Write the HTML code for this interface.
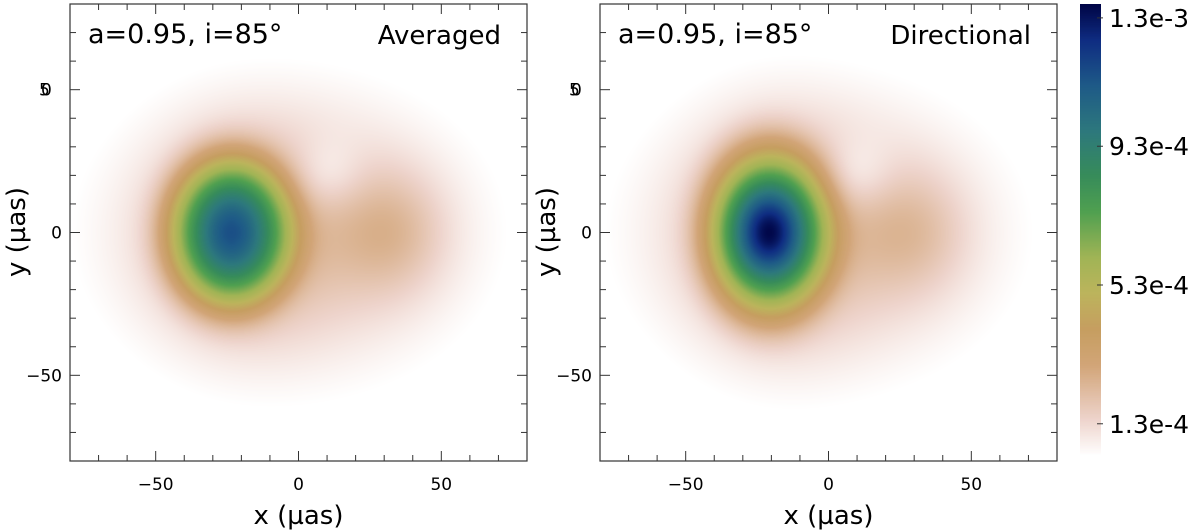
<!DOCTYPE html>
<html><head><meta charset="utf-8"><style>
body{margin:0;background:#fff;width:1200px;height:530px;overflow:hidden;font-family:"DejaVu Sans","Liberation Sans",sans-serif}
svg text{font-family:"DejaVu Sans","Liberation Sans",sans-serif;fill:#000}
canvas{position:absolute}
</style></head><body>
<canvas id="c1" width="457" height="457" style="left:70px;top:4px"></canvas>
<canvas id="c2" width="457" height="457" style="left:600px;top:4px"></canvas>
<canvas id="cb" width="21" height="451" style="left:1080px;top:4px"></canvas>
<svg id="s" width="1200" height="530" style="position:absolute;left:0;top:0"></svg>
<script>
// blob components: amplitude, cx, cy, sx, sy (µas), profile exponent
const avgAmp=[2.0e-4,-0.8e-4,1.2e-4,4.3e-4,4.3e-4,1.0e-4];
const avgCx=[-3,10,33,-24,-24,-22];
const avgCy=[0,20,0,0,0,0];
const avgSx=[42,9,13,20,10,20];
const avgSy=[33,9,15,24,13,25];
const avgPw=[2,2,2,4,2,2];
const dirAmp=[1.9e-4,-0.8e-4,1.0e-4,4.3e-4,6.3e-4,1.0e-4];
const dirCx=[-3,10,30,-21,-21,-20];
const dirCy=[0,20,0,0,0,0];
const dirSx=[42,9,13,20,9,20];
const dirSy=[33,9,15,27,12,28];
const dirPw=[2,2,2,4,2,2];
const cbTicks=[1.3e-3,9.3e-4,5.3e-4,1.3e-4];
const cbLabels=["1.3e-3","9.3e-4","5.3e-4","1.3e-4"];
const vmin=0.4e-4, vmax=1.34e-3;
const xTicks=[-50,0,50];
const xLabels=["\u221250","0","50"];
const yTicks=[0,-50];
const yLabels=["0","\u221250"];

const stops=[[0,[255,255,255]],[0.08,[238,212,204]],[0.2,[210,165,120]],[0.28,[198,158,96]],[0.36,[188,180,92]],[0.44,[160,180,85]],[0.54,[80,160,80]],[0.62,[55,140,90]],[0.72,[45,120,125]],[0.82,[30,90,135]],[0.92,[15,45,130]],[1,[0,5,70]]];
function cmap(t){t=Math.max(0,Math.min(1,t));for(let i=1;i<stops.length;i++){if(t<=stops[i][0]){const a=stops[i-1],b=stops[i];const f=(t-a[0])/(b[0]-a[0]);return a[1].map((v,k)=>v+(b[1][k]-v)*f);}}return stops[stops.length-1][1];}
function draw(id,A,CX,CY,SX,SY,PW){
 const c=document.getElementById(id),g=c.getContext('2d'),W=c.width,H=c.height,im=g.createImageData(W,H);
 for(let py=0;py<H;py++)for(let px=0;px<W;px++){
  const x=-80+160*(px+0.5)/W,y=80-160*(py+0.5)/H;let v=0;
  for(let k=0;k<A.length;k++){const dx=(x-CX[k])/SX[k],dy=(y-CY[k])/SY[k];v+=A[k]*Math.exp(-0.5*Math.pow(dx*dx+dy*dy,PW[k]/2));}
  const col=cmap((v-vmin)/(vmax-vmin)),o=(py*W+px)*4;im.data[o]=col[0];im.data[o+1]=col[1];im.data[o+2]=col[2];im.data[o+3]=255;}
 g.putImageData(im,0,0);}
draw('c1',avgAmp,avgCx,avgCy,avgSx,avgSy,avgPw);
draw('c2',dirAmp,dirCx,dirCy,dirSx,dirSy,dirPw);
(function(){const c=document.getElementById('cb'),g=c.getContext('2d');for(let y=0;y<c.height;y++){const col=cmap(1-y/c.height);g.fillStyle=`rgb(${col.map(Math.round).join(',')})`;g.fillRect(0,y,c.width,1);}})();

const S=document.getElementById('s'),NS='http://www.w3.org/2000/svg';
function el(t,a,p){const e=document.createElementNS(NS,t);for(const k in a)e.setAttribute(k,a[k]);(p||S).appendChild(e);return e;}
function panel(L,title,name){
 const T=4,Wd=457,H=457;
 const sx=v=>L+(v+80)/160*Wd, sy=v=>T+(80-v)/160*H;
 const g=el('g',{});
 
 
 el('rect',{x:L,y:T,width:Wd,height:H,fill:'none',stroke:'#333','stroke-width':1.2},g);
 for(let v=-80;v<=80;v+=10){const maj=v%50===0,len=maj?10:6;
  el('line',{x1:sx(v),x2:sx(v),y1:T+H,y2:T+H-len,stroke:'#333'},g);
  el('line',{x1:sx(v),x2:sx(v),y1:T,y2:T+len,stroke:'#333'},g);
  el('line',{x1:L,x2:L+len,y1:sy(v),y2:sy(v),stroke:'#333'},g);
  el('line',{x1:L+Wd,x2:L+Wd-len,y1:sy(v),y2:sy(v),stroke:'#333'},g);}
 xTicks.forEach((v,i)=>{const t=el('text',{x:sx(v),y:490,'font-size':17,'text-anchor':'middle'},g);t.textContent=xLabels[i];
  
  });
 yTicks.forEach((v,i)=>{const t=el('text',{x:L-8,y:sy(v)+6,'font-size':17,'text-anchor':'end'},g);t.textContent=yLabels[i];
  
  });
 let t=el('text',{x:L-31,y:sy(50)+6,'font-size':17},g);t.textContent='5';
 
 
 t=el('text',{x:L-29,y:sy(50)+6,'font-size':17},g);t.textContent='0';
 
 
 t=el('text',{x:L+Wd/2,y:524,'font-size':26,'text-anchor':'middle'},g);t.textContent='x (\u00b5as)';
 
 
 t=el('text',{x:0,y:0,'font-size':26,'text-anchor':'middle',transform:`translate(${L-45},232) rotate(-90)`},g);t.textContent='y (\u00b5as)';
 
 
 t=el('text',{x:L+18,y:43,'font-size':27},g);t.textContent='a=0.95, i=85\u00b0';
 
 
 t=el('text',{x:L+Wd-26,y:44,'font-size':26,'text-anchor':'end'},g);t.textContent=title;
 
 
}
panel(70,'Averaged','averaged');
panel(600,'Directional','directional');
const cbg=el('g',{});


const cbY=v=>4+451*(1-(v-vmin)/(vmax-vmin));
cbTicks.forEach((v,i)=>{const y=cbY(v);el('line',{x1:1097,x2:1103,y1:y,y2:y,stroke:'#333'},cbg);
 const t=el('text',{x:1109,y:y+9,'font-size':25},cbg);t.textContent=cbLabels[i];
 
 });
</script>
</body></html>
